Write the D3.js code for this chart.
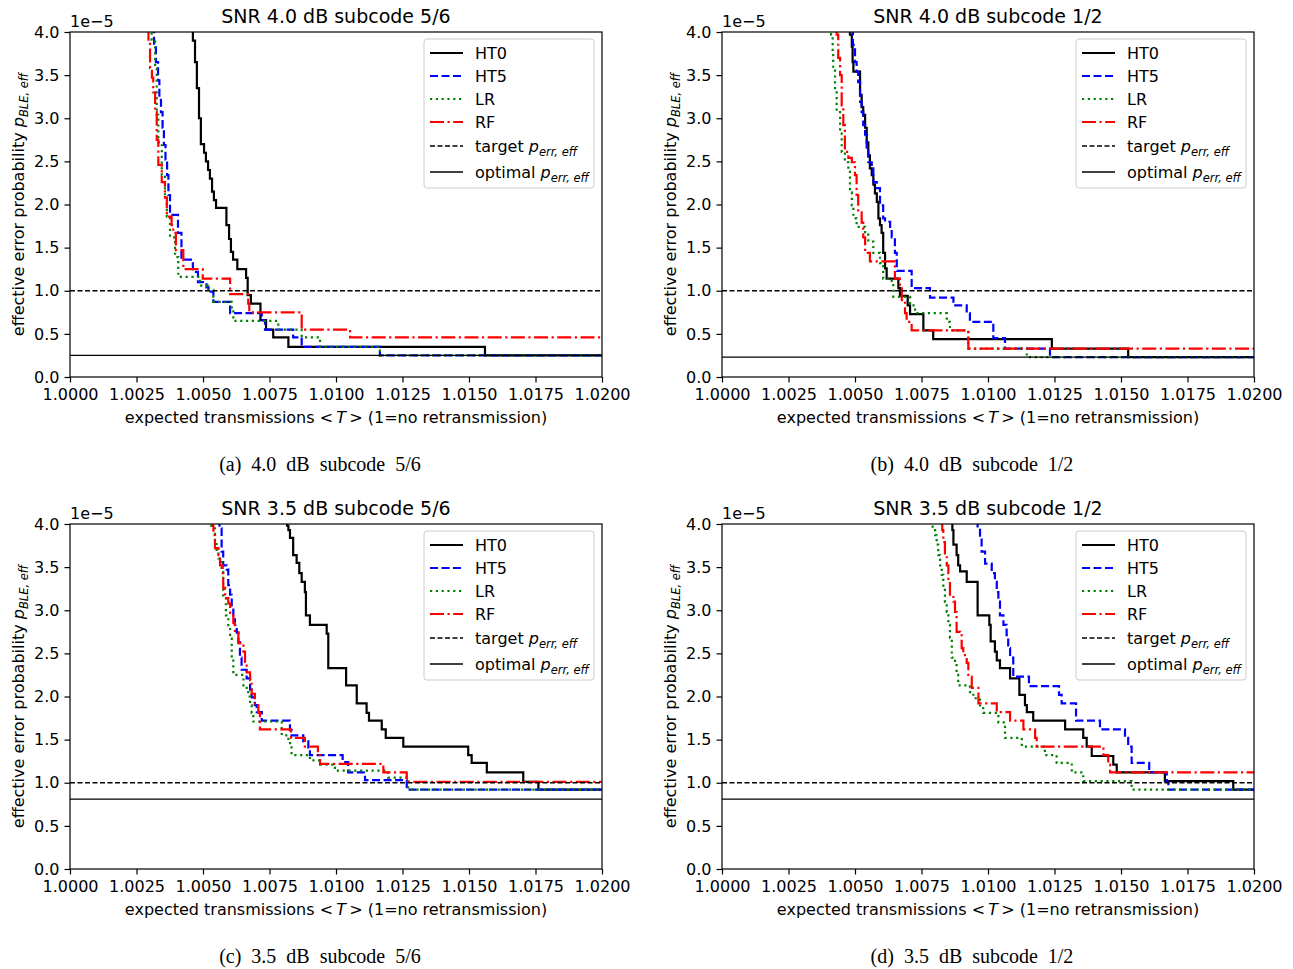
<!DOCTYPE html>
<html><head><meta charset="utf-8">
<script src="https://cdn.jsdelivr.net/npm/d3@7"></script>
<style>
body{margin:0;background:#fff;}
svg text{font-family:"DejaVu Sans",sans-serif;fill:#000;}
</style></head><body>
<svg id="fig" width="1293" height="969"></svg>
<script>
// ---------- data ----------
const xTicks = [1.0000,1.0025,1.0050,1.0075,1.0100,1.0125,1.0150,1.0175,1.0200];
const yTicks = [0,0.5,1,1.5,2,2.5,3,3.5,4];
const seriesNames = ["HT0","HT5","LR","RF"];
const panelTitles = ["SNR 4.0 dB subcode 5/6","SNR 4.0 dB subcode 1/2","SNR 3.5 dB subcode 5/6","SNR 3.5 dB subcode 1/2"];
const panelCaptions = ["(a) 4.0 dB subcode 5/6","(b) 4.0 dB subcode 1/2","(c) 3.5 dB subcode 5/6","(d) 3.5 dB subcode 1/2"];
const targetValues = [1.0,1.0,1.0,1.0];
const optimalValues = [0.25,0.23,0.81,0.81];

// step points [expected transmissions, error probability (x1e-5)]
const a_HT0 = [[1.00451,4.3],[1.00462,3.90],[1.00470,3.65],[1.00477,3.35],[1.00485,3.00],[1.00492,2.70],[1.00504,2.60],[1.00511,2.50],[1.00519,2.40],[1.00526,2.30],[1.00534,2.15],[1.00541,2.05],[1.00549,1.96],[1.00588,1.76],[1.00598,1.60],[1.00605,1.45],[1.00613,1.36],[1.00629,1.25],[1.00662,1.15],[1.00668,0.95],[1.00680,0.85],[1.00716,0.66],[1.00737,0.55],[1.00764,0.46],[1.00821,0.35],[1.01560,0.25]];
const a_HT5 = [[1.00301,4.3],[1.00316,3.85],[1.00323,3.65],[1.00331,3.44],[1.00336,3.23],[1.00342,3.07],[1.00348,2.89],[1.00353,2.69],[1.00359,2.52],[1.00365,2.34],[1.00370,2.11],[1.00376,1.88],[1.00406,1.67],[1.00419,1.36],[1.00462,1.22],[1.00481,1.10],[1.00513,1.04],[1.00521,0.99],[1.00539,0.87],[1.00602,0.74],[1.00721,0.66],[1.00733,0.55],[1.00839,0.46],[1.00871,0.35],[1.01165,0.25]];
const a_LR = [[1.00297,4.3],[1.00307,3.91],[1.00320,3.58],[1.00326,3.04],[1.00332,2.72],[1.00345,2.34],[1.00357,2.08],[1.00364,1.86],[1.00376,1.62],[1.00395,1.39],[1.00407,1.16],[1.00489,1.06],[1.00519,1.01],[1.00539,0.87],[1.00608,0.76],[1.00614,0.65],[1.00783,0.55],[1.00871,0.46],[1.00940,0.35],[1.01165,0.25]];
const a_RF = [[1.00286,4.3],[1.00295,3.91],[1.00301,3.58],[1.00308,3.47],[1.00313,3.30],[1.00320,3.07],[1.00326,2.75],[1.00332,2.46],[1.00345,2.26],[1.00357,2.08],[1.00364,1.86],[1.00382,1.76],[1.00388,1.67],[1.00398,1.47],[1.00426,1.25],[1.00499,1.14],[1.00602,0.96],[1.00670,0.85],[1.00674,0.75],[1.00871,0.55],[1.01053,0.46]];

const b_HT0 = [[1.00477,4.3],[1.00481,3.97],[1.00488,3.83],[1.00491,3.65],[1.00494,3.54],[1.00519,3.27],[1.00525,3.13],[1.00531,3.04],[1.00538,2.89],[1.00544,2.72],[1.00550,2.57],[1.00556,2.42],[1.00563,2.34],[1.00569,2.23],[1.00575,2.13],[1.00582,2.03],[1.00588,1.84],[1.00594,1.76],[1.00600,1.67],[1.00606,1.44],[1.00613,1.26],[1.00619,1.14],[1.00663,1.03],[1.00669,0.94],[1.00698,0.83],[1.00707,0.73],[1.00757,0.54],[1.00794,0.44],[1.01240,0.33],[1.01527,0.23]];
const b_HT5 = [[1.00485,4.3],[1.00492,3.85],[1.00500,3.65],[1.00506,3.54],[1.00512,3.42],[1.00519,3.19],[1.00525,3.07],[1.00531,2.92],[1.00538,2.81],[1.00544,2.66],[1.00550,2.49],[1.00563,2.42],[1.00569,2.26],[1.00582,2.19],[1.00594,1.99],[1.00606,1.84],[1.00613,1.80],[1.00632,1.74],[1.00638,1.62],[1.00650,1.44],[1.00657,1.23],[1.00713,1.03],[1.00782,0.92],[1.00870,0.83],[1.00920,0.74],[1.00932,0.64],[1.01020,0.45],[1.01064,0.33],[1.01233,0.23]];
const b_LR = [[1.00402,4.3],[1.00410,3.97],[1.00416,3.77],[1.00418,3.58],[1.00425,3.30],[1.00431,3.07],[1.00444,2.84],[1.00450,2.61],[1.00462,2.49],[1.00475,2.38],[1.00481,2.14],[1.00488,1.99],[1.00494,1.84],[1.00506,1.74],[1.00538,1.65],[1.00550,1.57],[1.00569,1.44],[1.00594,1.32],[1.00606,1.14],[1.00638,1.09],[1.00644,0.93],[1.00707,0.83],[1.00726,0.74],[1.00845,0.64],[1.00857,0.54],[1.00926,0.33],[1.01146,0.23]];
const b_RF = [[1.00425,4.3],[1.00431,3.97],[1.00437,3.70],[1.00444,3.50],[1.00450,3.15],[1.00456,2.92],[1.00462,2.61],[1.00475,2.54],[1.00488,2.49],[1.00500,2.34],[1.00506,2.11],[1.00512,1.91],[1.00525,1.79],[1.00531,1.62],[1.00538,1.44],[1.00556,1.34],[1.00650,1.14],[1.00669,1.04],[1.00676,0.89],[1.00688,0.74],[1.00694,0.64],[1.00713,0.54],[1.00926,0.33]];

const c_HT0 = [[1.00808,4.3],[1.00816,3.98],[1.00821,3.93],[1.00827,3.84],[1.00839,3.64],[1.00852,3.55],[1.00862,3.43],[1.00871,3.33],[1.00883,3.21],[1.00887,2.94],[1.00902,2.83],[1.00965,2.73],[1.00971,2.33],[1.01038,2.13],[1.01078,1.92],[1.01115,1.81],[1.01124,1.72],[1.01172,1.62],[1.01187,1.52],[1.01253,1.42],[1.01497,1.32],[1.01510,1.23],[1.01567,1.12],[1.01704,1.01],[1.01761,0.92]];
const c_HT5 = [[1.00553,4.3],[1.00562,3.95],[1.00570,3.68],[1.00576,3.52],[1.00589,3.47],[1.00595,3.29],[1.00602,3.18],[1.00608,3.04],[1.00614,2.94],[1.00620,2.83],[1.00627,2.74],[1.00633,2.63],[1.00639,2.45],[1.00645,2.31],[1.00664,2.21],[1.00677,2.08],[1.00683,1.99],[1.00695,1.90],[1.00702,1.82],[1.00721,1.72],[1.00827,1.61],[1.00833,1.55],[1.00877,1.48],[1.00896,1.39],[1.00902,1.32],[1.01025,1.24],[1.01046,1.12],[1.01109,1.03],[1.01266,0.92]];
const c_LR = [[1.00523,4.3],[1.00530,3.98],[1.00536,3.95],[1.00545,3.81],[1.00551,3.68],[1.00558,3.60],[1.00570,3.47],[1.00576,3.14],[1.00586,2.94],[1.00595,2.81],[1.00602,2.67],[1.00608,2.44],[1.00614,2.25],[1.00652,2.10],[1.00670,2.00],[1.00677,1.90],[1.00683,1.81],[1.00689,1.71],[1.00796,1.55],[1.00821,1.46],[1.00833,1.32],[1.00902,1.26],[1.00940,1.21],[1.00996,1.14],[1.01196,1.06],[1.01271,0.92]];
const c_RF = [[1.00526,4.3],[1.00535,3.98],[1.00539,3.87],[1.00545,3.72],[1.00558,3.64],[1.00564,3.52],[1.00574,3.43],[1.00576,3.26],[1.00583,3.14],[1.00595,3.08],[1.00602,2.97],[1.00614,2.85],[1.00620,2.74],[1.00633,2.62],[1.00652,2.52],[1.00658,2.40],[1.00664,2.28],[1.00677,2.19],[1.00683,2.03],[1.00695,1.90],[1.00708,1.81],[1.00714,1.62],[1.00831,1.52],[1.00883,1.42],[1.00932,1.32],[1.00940,1.22],[1.01178,1.12],[1.01266,1.01]];

const d_HT0 = [[1.00861,4.3],[1.00866,3.93],[1.00870,3.76],[1.00882,3.64],[1.00888,3.52],[1.00895,3.45],[1.00920,3.33],[1.00961,2.94],[1.01005,2.83],[1.01010,2.64],[1.01026,2.52],[1.01033,2.42],[1.01045,2.33],[1.01083,2.21],[1.01118,2.02],[1.01139,1.90],[1.01146,1.82],[1.01170,1.72],[1.01290,1.62],[1.01358,1.52],[1.01371,1.42],[1.01390,1.31],[1.01471,1.21],[1.01484,1.12],[1.01665,1.02],[1.01922,0.92]];
const d_HT5 = [[1.00955,4.3],[1.00961,3.95],[1.00970,3.84],[1.00976,3.68],[1.00989,3.54],[1.01014,3.43],[1.01026,3.33],[1.01033,3.21],[1.01039,3.10],[1.01045,2.94],[1.01058,2.83],[1.01070,2.71],[1.01076,2.56],[1.01083,2.45],[1.01095,2.23],[1.01154,2.12],[1.01267,2.02],[1.01277,1.92],[1.01331,1.72],[1.01421,1.62],[1.01515,1.52],[1.01527,1.42],[1.01540,1.23],[1.01606,1.12],[1.01672,1.01],[1.01678,0.92]];
const d_LR = [[1.00786,4.3],[1.00792,3.95],[1.00801,3.87],[1.00807,3.76],[1.00813,3.64],[1.00820,3.52],[1.00826,3.41],[1.00832,3.26],[1.00838,3.10],[1.00845,2.98],[1.00851,2.83],[1.00857,2.68],[1.00864,2.45],[1.00876,2.39],[1.00882,2.25],[1.00888,2.13],[1.00932,2.05],[1.00945,1.98],[1.00970,1.88],[1.00982,1.81],[1.01039,1.70],[1.01064,1.52],[1.01127,1.42],[1.01214,1.32],[1.01258,1.23],[1.01315,1.12],[1.01358,1.02],[1.01540,0.92]];
const d_RF = [[1.00823,4.3],[1.00828,3.93],[1.00832,3.79],[1.00838,3.64],[1.00845,3.52],[1.00851,3.33],[1.00857,3.18],[1.00870,3.10],[1.00876,2.98],[1.00882,2.75],[1.00895,2.71],[1.00901,2.56],[1.00907,2.48],[1.00920,2.39],[1.00926,2.23],[1.00939,2.10],[1.00964,1.92],[1.01033,1.82],[1.01083,1.72],[1.01133,1.62],[1.01177,1.52],[1.01183,1.42],[1.01434,1.32],[1.01452,1.21],[1.01459,1.12]];

// ---------- layout / style ----------
const panelSeries = [[a_HT0,a_HT5,a_LR,a_RF],[b_HT0,b_HT5,b_LR,b_RF],[c_HT0,c_HT5,c_LR,c_RF],[d_HT0,d_HT5,d_LR,d_RF]];
const panelPos = [[70,32],[722,32],[70,524],[722,524]];
const captionPos = [[320,471],[972,471],[320,963],[972,963]];
const PW = 532, PH = 345;
const seriesColors = ["#000000","#0000ff","#008000","#ff0000"];
const seriesDash = [null,"8,3.5","2.2,3.6","14,3.5,2.2,3.5"];
const SW = 2.2;

const svg = d3.select("#fig");
const defs = svg.append("defs");

function mathSub(textSel, base, sub){
  textSel.append("tspan").attr("font-style","italic").text(base);
  textSel.append("tspan").attr("font-style","italic").attr("font-size","11.5px").attr("dy",4).text(sub);
}

panelPos.forEach(([L,T],i)=>{
  const x = d3.scaleLinear().domain([1.0,1.02]).range([L,L+PW]);
  const y = d3.scaleLinear().domain([0,4]).range([T+PH,T]);
  const g = svg.append("g");
  const clipId = "clip"+i;
  defs.append("clipPath").attr("id",clipId).append("rect")
    .attr("x",L).attr("y",T).attr("width",PW).attr("height",PH);
  const plot = g.append("g").attr("clip-path",`url(#${clipId})`);
  const line = d3.line().x(d=>x(d[0])).y(d=>y(d[1])).curve(d3.curveStepAfter);

  panelSeries[i].forEach((pts,k)=>{
    const full = pts.concat([[x.domain()[1], pts[pts.length-1][1]]]);
    plot.append("path").attr("d",line(full)).attr("fill","none")
      .attr("stroke",seriesColors[k]).attr("stroke-width",SW)
      .attr("stroke-dasharray",seriesDash[k]).attr("stroke-linejoin","miter");
  });
  // target & optimal
  plot.append("path").attr("d",line([[1.0,targetValues[i]],[1.02,targetValues[i]]]))
    .attr("stroke","#000").attr("stroke-width",1.3).attr("stroke-dasharray","5,2.5").attr("fill","none");
  plot.append("path").attr("d",line([[1.0,optimalValues[i]],[1.02,optimalValues[i]]]))
    .attr("stroke","#000").attr("stroke-width",1.3).attr("fill","none");

  // axes
  const xa = g.append("g").attr("transform",`translate(0,${T+PH})`)
    .call(d3.axisBottom(x).tickValues(xTicks).tickFormat(d3.format(".4f")).tickSize(5.5).tickSizeOuter(0).tickPadding(6.5));
  const ya = g.append("g").attr("transform",`translate(${L},0)`)
    .call(d3.axisLeft(y).tickValues(yTicks).tickFormat(d3.format(".1f")).tickSize(5.5).tickSizeOuter(0).tickPadding(5));
  [xa,ya].forEach(a=>{
    a.select(".domain").remove();
    a.selectAll("line").attr("stroke","#000").attr("stroke-width",1.2);
    a.selectAll("text").attr("font-family","DejaVu Sans").attr("font-size","16px").attr("fill","#000");
  });
  g.append("rect").attr("x",L).attr("y",T).attr("width",PW).attr("height",PH)
    .attr("fill","none").attr("stroke","#000").attr("stroke-width",1.2);

  // offset text
  g.append("text").attr("x",L).attr("y",T-5).attr("font-size","16px").text("1e\u22125");
  // title
  g.append("text").attr("x",L+PW/2).attr("y",T-9).attr("text-anchor","middle")
    .attr("font-size","19px").text(panelTitles[i]);
  // x label
  const xl = g.append("text").attr("x",L+PW/2).attr("y",T+391).attr("text-anchor","middle").attr("font-size","16px");
  xl.append("tspan").text("expected transmissions  <\u2009");
  xl.append("tspan").attr("font-style","italic").text("T");
  xl.append("tspan").text("\u2009>  (1=no retransmission)");
  // y label
  const yl = g.append("text").attr("transform",`translate(${L-46},${T+PH/2}) rotate(-90)`)
    .attr("text-anchor","middle").attr("font-size","16px");
  yl.append("tspan").text("effective error probability ");
  mathSub(yl,"p","BLE, eff");

  // legend
  const lg = g.append("g");
  lg.append("rect").attr("x",L+354).attr("y",T+7).attr("width",170).attr("height",149)
    .attr("rx",3).attr("fill","#fff").attr("fill-opacity",0.8).attr("stroke","#cccccc").attr("stroke-width",1);
  const rowY = [21,44,67,90,114,140];
  const legendItems = seriesNames.map((n,k)=>({label:n,color:seriesColors[k],dash:seriesDash[k],w:SW}))
    .concat([{label:"target",color:"#000",dash:"5,2.5",w:1.3,math:true},{label:"optimal",color:"#000",dash:null,w:1.3,math:true}]);
  legendItems.forEach((it,r)=>{
    const yy = T+rowY[r];
    lg.append("line").attr("x1",L+360).attr("x2",L+393).attr("y1",yy).attr("y2",yy)
      .attr("stroke",it.color).attr("stroke-width",it.w).attr("stroke-dasharray",it.dash);
    const t = lg.append("text").attr("x",L+405).attr("y",yy+6).attr("font-size","16px");
    if(it.math){ t.append("tspan").text(it.label+" "); mathSub(t,"p","err, eff"); }
    else t.text(it.label);
  });

  // caption
  svg.append("text").attr("x",captionPos[i][0]).attr("y",captionPos[i][1]).attr("text-anchor","middle")
    .style("font-family","'Liberation Serif',serif")
    .attr("font-size","20px").attr("word-spacing","5px").text(panelCaptions[i]);
});
</script>
</body></html>
